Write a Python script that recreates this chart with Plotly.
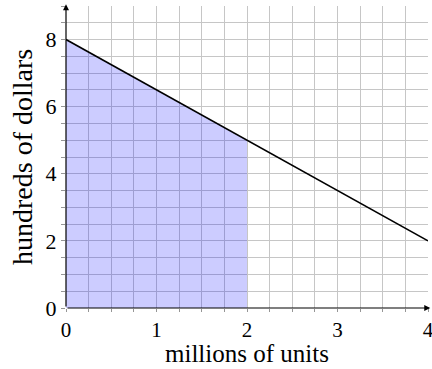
import plotly.graph_objects as go

# demand line (millions of units -> hundreds of dollars)
line_x = [0, 4]
line_y = [8, 2]

# shaded area under the line up to 2 million units
shade_x = [0, 0, 2, 2]
shade_y = [0, 8, 5, 0]

x_ticks = [0, 1, 2, 3, 4]
y_ticks = [0, 2, 4, 6, 8]

FONT = "Liberation Serif"
GRID = "rgb(198,198,198)"
TICKC = "rgb(150,150,150)"

fig = go.Figure()
fig.add_trace(go.Scatter(
    x=shade_x, y=shade_y, mode="lines", fill="toself",
    fillcolor="rgba(0,0,255,0.2)", line=dict(width=0),
    hoverinfo="skip", showlegend=False,
))
fig.add_trace(go.Scatter(
    x=line_x, y=line_y, mode="lines",
    line=dict(color="black", width=1.6), showlegend=False,
))

# axis lines with arrow heads
fig.add_annotation(x=4.025, y=0, ax=0, ay=0, xref="x", yref="y", axref="x", ayref="y",
                   showarrow=True, arrowhead=2, arrowsize=1, arrowwidth=1.2,
                   arrowcolor="black", text="")
fig.add_annotation(x=0, y=9.05, ax=0, ay=0, xref="x", yref="y", axref="x", ayref="y",
                   showarrow=True, arrowhead=2, arrowsize=1, arrowwidth=1.2,
                   arrowcolor="black", text="")

# axis titles placed by hand
fig.add_annotation(text="millions of units", xref="paper", yref="paper", x=0.5, y=0,
                   yshift=-61, yanchor="bottom", showarrow=False,
                   font=dict(family=FONT, size=25, color="black"))
fig.add_annotation(text="hundreds of dollars", xref="paper", yref="paper", x=0, y=0.5,
                   xshift=-44, xanchor="center", yanchor="middle", textangle=-90, showarrow=False,
                   font=dict(family=FONT, size=28, color="black"))

fig.update_xaxes(
    range=[0, 4], tickvals=x_ticks, ticktext=[str(v) for v in x_ticks],
    showgrid=True, gridcolor=GRID, gridwidth=1, zeroline=False, showline=False,
    ticks="outside", ticklen=3, tickcolor=TICKC, automargin=False,
    ticklabeloverflow="allow",
    minor=dict(dtick=0.25, showgrid=True, gridcolor=GRID, gridwidth=1,
               ticks="outside", ticklen=3, tickcolor=TICKC),
    tickfont=dict(family=FONT, size=21, color="black"),
)
fig.update_yaxes(
    range=[0, 9], tickvals=y_ticks, ticktext=[str(v) for v in y_ticks],
    showgrid=True, gridcolor=GRID, gridwidth=1, zeroline=False, showline=False,
    ticks="outside", ticklen=4, tickcolor=TICKC, automargin=False,
    ticklabeloverflow="allow",
    minor=dict(dtick=0.5, showgrid=True, gridcolor=GRID, gridwidth=1,
               ticks="outside", ticklen=4, tickcolor=TICKC),
    tickfont=dict(family=FONT, size=22, color="black"),
)
fig.update_layout(
    width=432, height=369,
    margin=dict(l=66, r=4, t=6, b=61),
    plot_bgcolor="white", paper_bgcolor="white",
)

# drop the default page margin so the figure sits at the window's corner
fig.write_html("out.html", config={"displayModeBar": False},
               post_script="document.body.style.margin='0';")
